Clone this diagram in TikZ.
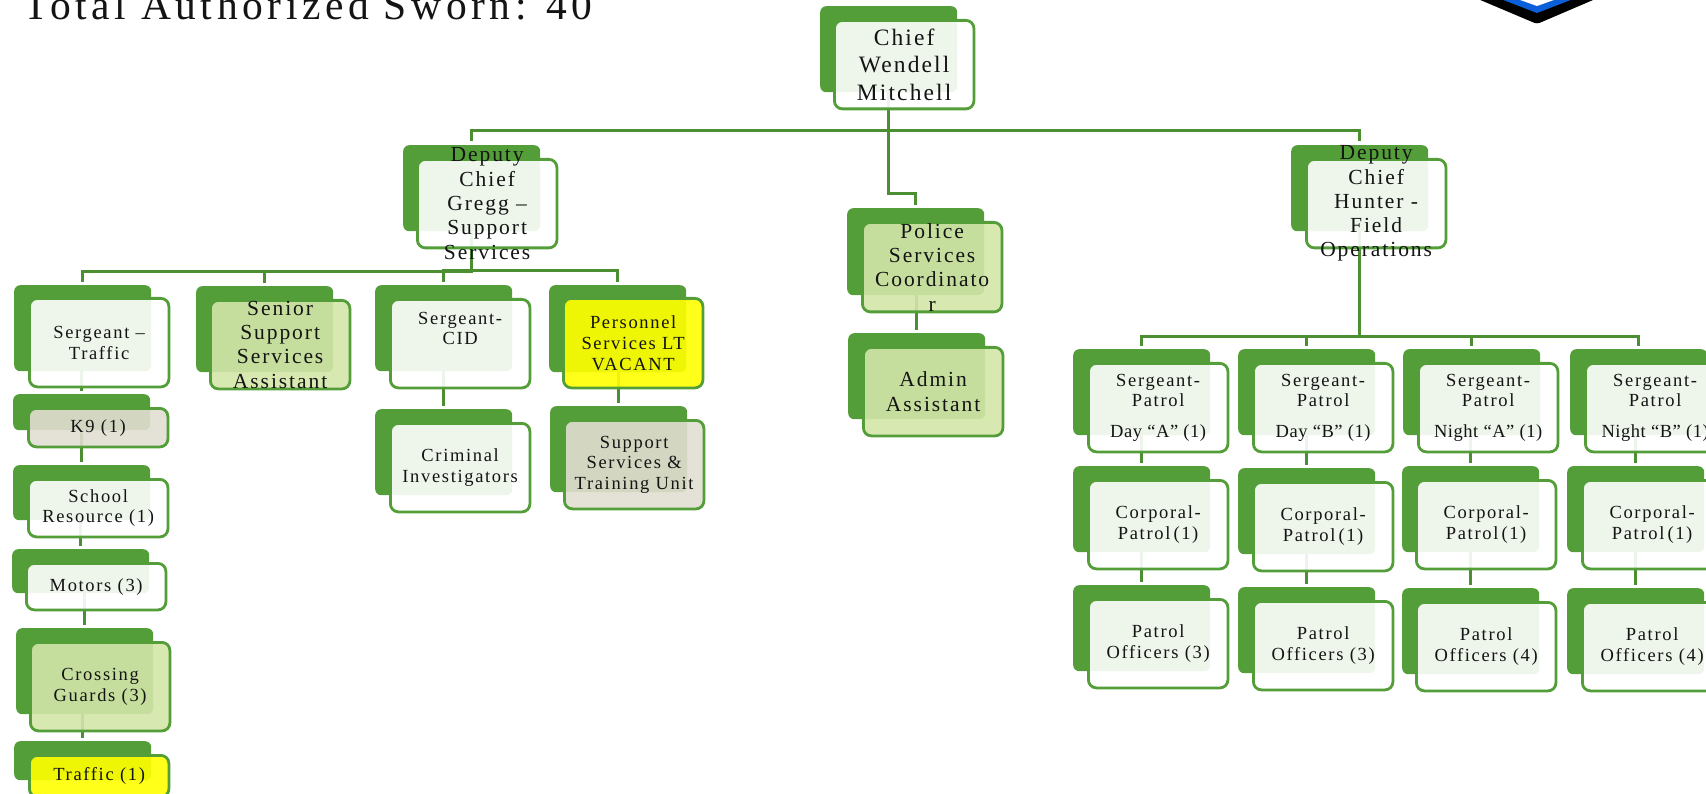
\documentclass[tikz,border=0pt]{standalone}
\usepackage{fontspec}
\setmainfont{Liberation Serif}
\newfontfamily\lsf[LetterSpace=9]{Liberation Serif}
\newfontfamily\lsn[LetterSpace=3]{Liberation Serif}
\newfontfamily\lsb[LetterSpace=11]{Liberation Serif}
\definecolor{gback}{HTML}{549E39}
\definecolor{gline}{HTML}{4C8F33}
\definecolor{cwhite}{HTML}{FFFFFF}
\definecolor{cgreen}{HTML}{D3E6A8}
\definecolor{cyell}{HTML}{FFFF00}
\definecolor{ctan}{HTML}{E1DED1}
\definecolor{lblue}{HTML}{0B5FD8}
\tikzset{
  backbox/.style={draw=none,fill=gback,rounded corners=6,minimum width=137,inner sep=0,anchor=north west},
  frontbox/.style={draw=gback,line width=2.8,fill opacity=.9,rounded corners=8,minimum width=139.5,inner sep=0,anchor=north west},
  boxtext/.style={inner sep=0,align=center,anchor=center,text=black!92},
  conn/.style={draw=gline,line width=2.7},
}
\newcommand\fA{\lsf\fontsize{23.5}{27.5}\selectfont}
\newcommand\fB{\lsf\fontsize{21.5}{24.3}\selectfont}
\newcommand\fC{\lsf\fontsize{18.5}{20.7}\selectfont}
\newcommand\fN{\lsn\fontsize{18.5}{20.7}\selectfont}
\newcommand\bxback[9]{\node[backbox,minimum height=#4] (#1b) at (#2,#3) {};}
\newcommand\bxfront[9]{\node[frontbox,minimum height=#4+2.5,fill=#7] (#1) at (#5,#6) {};
  \node[boxtext,font=#8] (#1t) at (#1.center) {#9};}
\newcommand\allboxes{%
\bx{chief}{820}{6}{86}{833}{19}{cwhite}{\fA}{Chief\\Wendell\\Mitchell}
\bx{gregg}{403}{145}{86}{416}{158}{cwhite}{\fB}{Deputy\\Chief\\Gregg –\\Support\\Services}
\bx{police}{847}{208}{87}{861}{221}{cgreen}{\fB}{Police\\Services\\Coordinato\\r}
\bx{admin}{848}{333}{86}{862}{346}{cgreen}{\fB}{Admin\\Assistant}
\bx{hunter}{1291}{145}{86}{1305}{158}{cwhite}{\fB}{Deputy\\Chief\\Hunter -\\Field\\Operations}
\bx{sgtt}{14}{285}{86}{28}{297}{cwhite}{\fC}{Sergeant –\\Traffic}
\bx{keni}{13}{394}{36}{27}{407}{ctan}{\fC}{K9 (1)}
\bx{school}{13}{465}{55}{27}{478}{cwhite}{\fC}{School\\Resource (1)}
\bx{motors}{12}{549}{44}{25}{562}{cwhite}{\fC}{Motors (3)}
\bx{cross}{16}{628}{86}{29}{641}{cgreen}{\fC}{Crossing\\Guards (3)}
\bx{traffic}{14}{741}{39}{28}{754}{cyell}{\fC}{Traffic (1)}
\bx{senior}{196}{286}{86}{209}{299}{cgreen}{\fB}{Senior\\Support\\Services\\Assistant}
\bx{cid}{375}{285}{86}{389}{298}{cwhite}{\fC}{Sergeant-\\CID\\[10pt]\mbox{}}
\bx{crim}{375}{409}{86}{389}{422}{cwhite}{\fC}{Criminal\\Investigators}
\bx{pers}{549}{285}{87}{562}{297}{cyell}{\fC}{Personnel\\Services LT\\VACANT}
\bx{supp}{550}{406}{86}{563}{419}{ctan}{\fC}{Support\\Services \&\\Training Unit}
\bx{sa}{1073}{349}{86}{1087}{362}{cwhite}{\fC}{Sergeant-\\Patrol\\[10pt]{\fN Day “A” (1)}}
\bx{ca}{1073}{466}{86}{1087}{479}{cwhite}{\fC}{Corporal-\\[1pt]Patrol\,(1)}
\bx{oa}{1073}{585}{86}{1087}{598}{cwhite}{\fC}{Patrol\\Officers (3)}
\bx{sb}{1238}{349}{86}{1252}{362}{cwhite}{\fC}{Sergeant-\\Patrol\\[10pt]{\fN Day “B” (1)}}
\bx{cb}{1238}{468}{86}{1252}{481}{cwhite}{\fC}{Corporal-\\[1pt]Patrol\,(1)}
\bx{ob}{1238}{587}{86}{1252}{600}{cwhite}{\fC}{Patrol\\Officers (3)}
\bx{sc}{1403}{349}{86}{1417}{362}{cwhite}{\fC}{Sergeant-\\Patrol\\[10pt]{\fN Night “A” (1)}}
\bx{cc}{1402}{466}{86}{1415}{479}{cwhite}{\fC}{Corporal-\\[1pt]Patrol\,(1)}
\bx{oc}{1402}{588}{86}{1415}{601}{cwhite}{\fC}{Patrol\\Officers (4)}
\bx{sd}{1570}{349}{86}{1584}{362}{cwhite}{\fC}{Sergeant-\\Patrol\\[10pt]{\fN Night “B” (1)}}
\bx{cd}{1567}{466}{86}{1581}{479}{cwhite}{\fC}{Corporal-\\[1pt]Patrol\,(1)}
\bx{od}{1567}{588}{86}{1581}{601}{cwhite}{\fC}{Patrol\\Officers (4)}
}
\newcommand\vlink[2]{\draw[conn,shorten >=3] (#2b.north |- #1b.south) -- (#2b.north);}
\begin{document}
\begin{tikzpicture}[x=1pt,y=-1pt]
\useasboundingbox (0,0) rectangle (1706,794);
\clip (0,0) rectangle (1706,794);
% logo tip
\fill[black,rounded corners=3] (1459,-9) -- (1537,24) -- (1614,-9) -- cycle;
\fill[lblue] (1480,-9) -- (1537,13) -- (1594,-9) -- cycle;
\fill[white] (1495,-9) -- (1537,6) -- (1579,-9) -- cycle;
% title
\node[inner sep=0,anchor=base west,font=\lsb\fontsize{41.5}{44}\selectfont,text=black!92] (title) at (23,20) {Total Authorized Sworn: 40};
% back boxes
\let\bx\bxback
\allboxes
% connectors
\draw[conn,shorten >=4] (chiefb.south) -- ++(0,38) -| (greggb.north);
\draw[conn,shorten >=4] (chiefb.south) -- ++(0,38) -| (hunterb.north);
\draw[conn,shorten >=3] (chiefb.south) -- ++(0,101) -| (policeb.north);
\vlink{police}{admin}
\draw[conn,shorten >=3] (greggb.south) -- ++(0,40) -| (sgttb.north);
\draw[conn,shorten >=3] (greggb.south) -- ++(0,40) -| (seniorb.north);
\draw[conn,shorten >=3] (greggb.south) -- ++(0,39) -| (cidb.north);
\draw[conn,shorten >=3] (greggb.south) -- ++(0,39) -| (persb.north);
\vlink{sgtt}{keni}
\vlink{keni}{school}
\vlink{school}{motors}
\vlink{motors}{cross}
\vlink{cross}{traffic}
\vlink{cid}{crim}
\vlink{pers}{supp}
\draw[conn,shorten >=3] (hunterb.south) -- ++(0,105) -| (sab.north);
\draw[conn,shorten >=3] (hunterb.south) -- ++(0,105) -| (sbb.north);
\draw[conn,shorten >=3] (hunterb.south) -- ++(0,105) -| (scb.north);
\draw[conn,shorten >=3] (hunterb.south) -- ++(0,105) -| (sdb.north);
\vlink{sa}{ca}\vlink{ca}{oa}
\vlink{sb}{cb}\vlink{cb}{ob}
\vlink{sc}{cc}\vlink{cc}{oc}
\vlink{sd}{cd}\vlink{cd}{od}
% front boxes
\let\bx\bxfront
\allboxes
\end{tikzpicture}
\end{document}
